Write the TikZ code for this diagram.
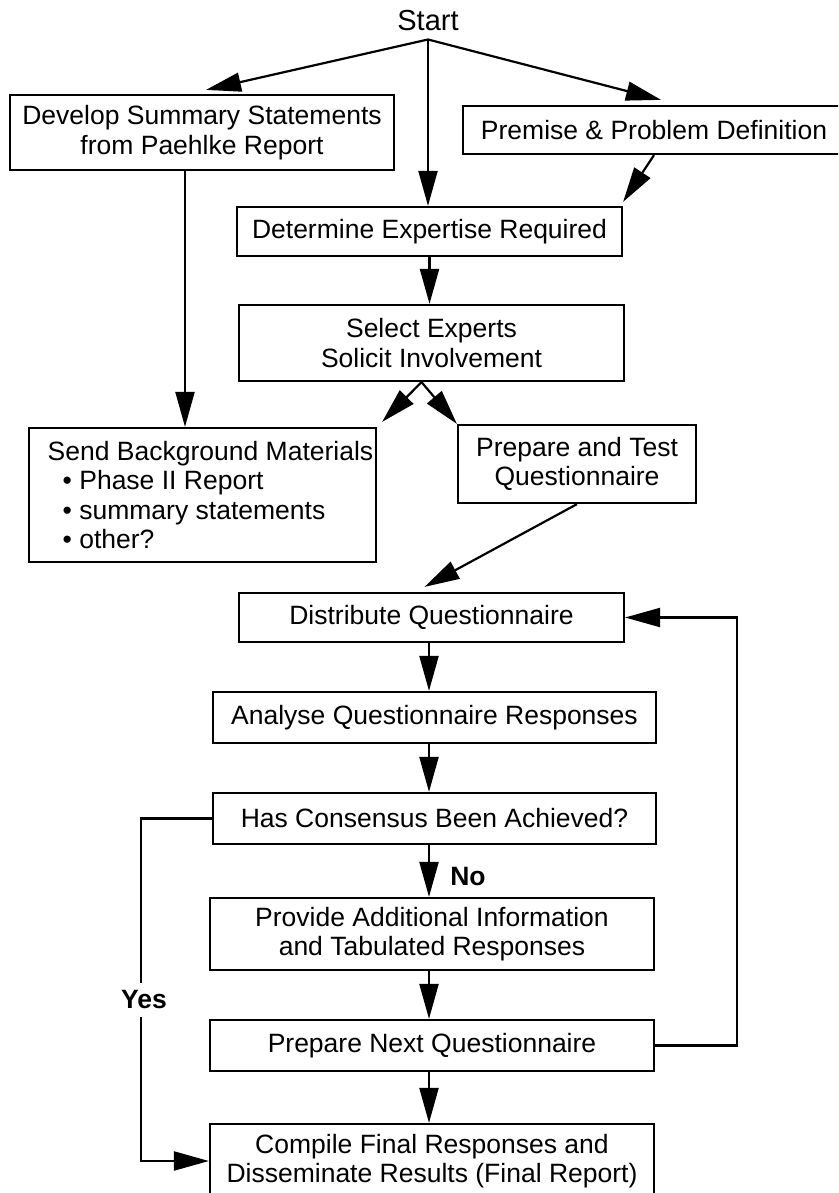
\documentclass[tikz,border=0pt]{standalone}
\usepackage{fontspec}
\setmainfont{Liberation Sans}
\usetikzlibrary{arrows.meta,calc}
\begin{document}
\begin{tikzpicture}[x=1pt,y=-1pt,
  font=\fontsize{26.5}{29.5}\selectfont,
  box/.style={draw, line width=2.2pt, inner sep=0pt, align=center, fill=white},
  arr/.style={line width=2.2pt, -{Triangle[length=35pt,width=19pt]}},
  lbl/.style={font=\fontsize{26.5}{29.5}\selectfont\bfseries, inner sep=0pt}]
\useasboundingbox (0,0) rectangle (838,1193);
\clip (0,0) rectangle (838,1193);
\node[anchor=base, inner xsep=0pt, inner ysep=8pt, font=\fontsize{29}{32}\selectfont] (start) at (428,31) {Start};
\node[box, minimum width=384pt, minimum height=75pt] (dev) at (202,132.5) {Develop Summary Statements\\from Paehlke Report};
\node[box, minimum width=382pt, minimum height=48pt] (prem) at (654,130) {Premise \& Problem Definition};
\node[box, minimum width=385pt, minimum height=49pt] (det) at (429.5,231.5) {Determine Expertise Required};
\node[box, minimum width=385pt, minimum height=76pt] (sel) at (431.5,343) {Select Experts\\Solicit Involvement};
\node[box, minimum width=347pt, minimum height=134pt, align=left] (send) at (202.5,495) {\hspace*{16pt}Send Background Materials\\\hspace*{31pt}• Phase II Report\\\hspace*{31pt}• summary statements\\\hspace*{31pt}• other?};
\node[box, minimum width=238pt, minimum height=78pt] (prep) at (577,464) {Prepare and Test\\Questionnaire};
\node[box, minimum width=385pt, minimum height=49pt] (dist) at (431.5,617.5) {Distribute Questionnaire};
\node[box, minimum width=443pt, minimum height=51pt] (ana) at (434.5,717.5) {Analyse Questionnaire Responses};
\node[box, minimum width=443pt, minimum height=51pt] (has) at (434.5,818.5) {Has Consensus Been Achieved?};
\node[box, minimum width=444pt, minimum height=72pt] (prov) at (432,934) {Provide Additional Information\\and Tabulated Responses};
\node[box, minimum width=444pt, minimum height=51pt] (next) at (432,1045.5) {Prepare Next Questionnaire};
\node[box, minimum width=444pt, minimum height=74pt] (comp) at (432,1161) {Compile Final Responses and\\Disseminate Results (Final Report)};
\coordinate (col) at (429,0);
\coordinate (fk) at ($(sel.south)+(-10,0)$);
\draw[arr] (start.south) -- ($(dev.north)+(4,-4)$);
\draw[arr] (start.south) -- ($(prem.north)+(7,-5)$);
\draw[arr] (start.south) -- (start.south |- det.north);
\draw[arr] (prem.south) -- ($(det.north east)+(0,-4)$);
\draw[arr] ([xshift=-17pt]dev.south) -- ([xshift=-17pt]dev.south |- send.north);
\draw[arr] (det.south) -- (det.south |- sel.north);
\draw[arr] (fk) -- ($(send.north east)+(5,-5)$);
\draw[arr] (fk) -- (prep.north west);
\draw[arr] (prep.south) -- ($(dist.north)+(-7,-5)$);
\draw[arr] (col |- dist.south) -- (col |- ana.north);
\draw[arr] (col |- ana.south) -- (col |- has.north);
\draw[arr] (col |- has.south) -- (col |- prov.north);
\draw[arr] (col |- prov.south) -- (col |- next.north);
\draw[arr] (col |- next.south) -- (col |- comp.north);
\draw[arr] (has.west) -- ++(-71,0) |- (comp.west);
\draw[arr] (next.east) -- ++(82,0) |- (dist.east);
\node[lbl] (no) at (468,877) {No};
\node[lbl, fill=white, inner xsep=2pt, inner ysep=8pt] (yes) at (144,1000) {Yes};
\end{tikzpicture}
\end{document}
